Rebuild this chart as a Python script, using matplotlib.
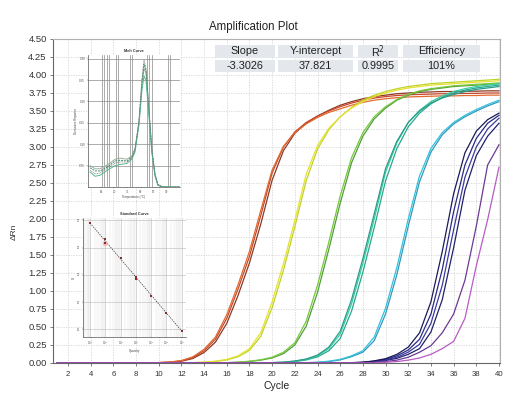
import matplotlib
matplotlib.use("Agg")
import matplotlib.pyplot as plt
from matplotlib.patches import Rectangle
from matplotlib.ticker import FormatStrFormatter, NullFormatter, LogLocator
import numpy as np

plt.rcParams['font.family'] = ['Liberation Sans', 'DejaVu Sans']

W, H = 516, 399

# ---------------- data ----------------
cycles = list(range(1, 41))

red_1 = [0]*9 + [0.005, 0.012, 0.03, 0.075, 0.17, 0.33, 0.62, 1.03, 1.48, 2.05, 2.64,
                 3.00, 3.21, 3.34, 3.43, 3.50, 3.56, 3.61, 3.65, 3.68, 3.70,
                 3.715, 3.725, 3.73, 3.735, 3.74, 3.74, 3.745, 3.745, 3.75, 3.75]
red_2 = [0]*9 + [0.004, 0.01, 0.025, 0.062, 0.145, 0.29, 0.55, 0.94, 1.39, 1.93, 2.54,
                 2.95, 3.19, 3.33, 3.43, 3.51, 3.58, 3.63, 3.67, 3.70, 3.72,
                 3.74, 3.75, 3.76, 3.765, 3.77, 3.77, 3.775, 3.775, 3.78, 3.78]
red_3 = [0]*9 + [0.006, 0.014, 0.034, 0.085, 0.19, 0.36, 0.67, 1.09, 1.55, 2.12, 2.68,
                 3.01, 3.20, 3.32, 3.41, 3.48, 3.53, 3.58, 3.62, 3.65, 3.67,
                 3.685, 3.695, 3.70, 3.705, 3.71, 3.71, 3.715, 3.715, 3.72, 3.72]
yellow_1 = [0]*12 + [0.005, 0.012, 0.025, 0.05, 0.10, 0.20, 0.42, 0.85, 1.38, 1.98,
                     2.62, 3.02, 3.26, 3.42, 3.54, 3.63, 3.70, 3.75, 3.79, 3.82,
                     3.84, 3.86, 3.87, 3.88, 3.89, 3.90, 3.91, 3.92]
yellow_2 = [0]*12 + [0.004, 0.01, 0.021, 0.043, 0.087, 0.175, 0.37, 0.77, 1.29, 1.89,
                     2.53, 2.97, 3.24, 3.42, 3.55, 3.65, 3.72, 3.77, 3.81, 3.84,
                     3.86, 3.88, 3.89, 3.90, 3.91, 3.92, 3.93, 3.94]
green_1 = [0]*15 + [0.005, 0.012, 0.025, 0.045, 0.08, 0.15, 0.28, 0.58, 1.08, 1.68,
                    2.32, 2.85, 3.20, 3.42, 3.56, 3.66, 3.73, 3.78, 3.81, 3.83,
                    3.85, 3.86, 3.87, 3.88, 3.89]
green_2 = [0]*15 + [0.004, 0.01, 0.021, 0.04, 0.07, 0.13, 0.25, 0.51, 0.98, 1.58,
                    2.22, 2.78, 3.15, 3.39, 3.54, 3.65, 3.72, 3.77, 3.80, 3.82,
                    3.84, 3.85, 3.86, 3.87, 3.88]
teal_1 = [0]*19 + [0.005, 0.01, 0.025, 0.05, 0.10, 0.20, 0.40, 0.82, 1.38, 2.00,
                   2.65, 3.06, 3.34, 3.51, 3.63, 3.71, 3.77, 3.81, 3.84, 3.86, 3.88]
teal_2 = [0]*19 + [0.004, 0.008, 0.02, 0.042, 0.085, 0.17, 0.34, 0.72, 1.26, 1.88,
                   2.53, 2.98, 3.28, 3.47, 3.60, 3.69, 3.75, 3.79, 3.82, 3.84, 3.86]
teal_3 = [0]*19 + [0.006, 0.012, 0.028, 0.055, 0.11, 0.22, 0.44, 0.88, 1.45, 2.07,
                   2.70, 3.08, 3.34, 3.50, 3.61, 3.68, 3.73, 3.77, 3.80, 3.82, 3.84]
cyan_1 = [0]*22 + [0.005, 0.01, 0.025, 0.05, 0.10, 0.17, 0.36, 0.76, 1.33, 2.00,
                   2.60, 2.98, 3.20, 3.34, 3.44, 3.52, 3.59, 3.65]
cyan_2 = [0]*22 + [0.004, 0.008, 0.02, 0.043, 0.088, 0.15, 0.31, 0.68, 1.23, 1.90,
                   2.52, 2.93, 3.17, 3.32, 3.42, 3.50, 3.57, 3.63]
navy_1 = [0]*26 + [0.005, 0.01, 0.03, 0.06, 0.12, 0.22, 0.42, 0.85, 1.55, 2.35,
                   2.92, 3.22, 3.38, 3.47]
navy_2 = [0]*26 + [0.004, 0.009, 0.025, 0.05, 0.10, 0.18, 0.33, 0.68, 1.30, 2.10,
                   2.75, 3.12, 3.33, 3.44]
navy_3 = [0]*26 + [0.003, 0.008, 0.02, 0.04, 0.08, 0.15, 0.26, 0.55, 1.08, 1.85,
                   2.58, 3.00, 3.25, 3.40]
navy_4 = [0]*26 + [0.003, 0.007, 0.017, 0.035, 0.065, 0.12, 0.20, 0.43, 0.88, 1.60,
                   2.40, 2.88, 3.15, 3.33]
purple_1 = [0]*28 + [0.01, 0.02, 0.04, 0.08, 0.15, 0.24, 0.42, 0.68, 1.15, 1.90, 2.75, 3.03]
purple_2 = [0]*29 + [0.01, 0.02, 0.04, 0.07, 0.12, 0.20, 0.30, 0.62, 1.35, 1.99, 2.72]

curves = [
    (red_2, '#8c3a22'), (red_1, '#c8452a'), (red_3, '#e06a30'),
    (yellow_2, '#bcd42a'), (yellow_1, '#e8e030'),
    (green_2, '#4f9e3c'), (green_1, '#78c83a'),
    (teal_2, '#27a88c'), (teal_1, '#38cfa2'), (teal_3, '#2a9a8c'),
    (cyan_2, '#2d98c0'), (cyan_1, '#36c0d8'),
    (navy_4, '#20206e'), (navy_3, '#3b3b9c'), (navy_2, '#2a2a84'), (navy_1, '#1a1a58'),
    (purple_1, '#6a3a92'), (purple_2, '#b85cc4'),
]

table_headers = ['Slope', 'Y-intercept', 'R$^2$', 'Efficiency']
table_values = ['-3.3026', '37.821', '0.9995', '101%']

# melt curve inset
melt_temp = [60.8, 62.7, 64.6, 67.6, 70.3, 72.2, 74.8, 76.7, 77.9, 79.4, 80.5, 81.3,
             82.1, 83.2, 84.3, 85.5, 86.6, 88.2, 91.0, 95.0]
melt_1 = [0.79, 0.61, 0.65, 0.89, 1.12, 1.17, 1.17, 1.36, 1.73, 3.13, 5.00, 5.93,
          5.56, 3.60, 1.73, 0.56, 0.09, 0.00, 0.00, 0.00]
melt_2 = [1.00, 0.85, 0.85, 1.05, 1.30, 1.35, 1.30, 1.45, 1.80, 3.00, 4.70, 5.55,
          5.30, 3.50, 1.70, 0.60, 0.12, 0.02, 0.00, 0.00]
melt_3 = [0.70, 0.50, 0.55, 0.80, 1.00, 1.05, 1.10, 1.30, 1.65, 2.90, 4.50, 5.20,
          4.95, 3.30, 1.60, 0.50, 0.08, 0.00, 0.00, 0.00]
melt_4 = [0.90, 0.75, 0.75, 0.95, 1.22, 1.25, 1.22, 1.40, 1.76, 3.05, 4.85, 5.75,
          5.40, 3.55, 1.72, 0.58, 0.10, 0.01, 0.00, 0.00]
melt_yticklabels = ['0.05', '0.10', '0.15', '0.20', '0.25', '0.30']

# standard curve inset
std_quantity = [1e1, 1e2, 1e2, 1e3, 1e4, 1e4, 1e5, 1e6, 1e7]
std_ct = [34.52, 31.53, 30.90, 28.04, 24.55, 24.30, 21.12, 17.95, 14.70]
std_fit_quantity = [1e1, 1e7]
std_fit_ct = [34.52, 14.70]


def px_rect(l, t, r, b):
    return [l / W, 1 - b / H, (r - l) / W, (b - t) / H]


fig = plt.figure(figsize=(W / 100, H / 100), dpi=100)

# ---------------- main axes ----------------
ax = fig.add_axes(px_rect(53, 39, 500, 363))
for ys, c in curves:
    ax.plot(cycles, ys, color=c, lw=0.9, solid_joinstyle='round', zorder=3)
ax.set_xlim(0.68, 40.09)
ax.set_ylim(0, 4.5)
ax.set_xticks(range(2, 41, 2))
ax.set_yticks(np.arange(0, 4.51, 0.25))
ax.yaxis.set_major_formatter(FormatStrFormatter('%.2f'))
ax.tick_params(axis='y', labelsize=6.8, length=2.5, width=0.6, color='#666',
               labelcolor='#333', pad=2)
ax.tick_params(axis='x', labelsize=5.6, length=2.5, width=0.6, color='#666',
               labelcolor='#333', pad=3)
ax.grid(True, color='#d4d4d4', linestyle=(0, (1.5, 1.5)), linewidth=0.6, zorder=0)
for s in ['left', 'bottom']:
    ax.spines[s].set_color('#666')
    ax.spines[s].set_linewidth(0.8)
for s in ['top', 'right']:
    ax.spines[s].set_color('#b0b0b0')
    ax.spines[s].set_linewidth(0.8)

fig.text(253 / W, 1 - 27 / H, 'Amplification Plot', ha='center', va='center',
         fontsize=8.3, color='#222')
fig.text(277 / W, 1 - 386 / H, 'Cycle', ha='center', va='center', fontsize=7.5, color='#222')
fig.text(14 / W, 1 - 232 / H, 'ΔRn', ha='center', va='center', rotation=90,
         fontsize=6, color='#333')

# ---------------- table ----------------
cells = [(215, 275), (278, 353), (358, 398), (403, 480)]
rows = [(45, 58), (60, 72)]
for (x0, x1), h, v in zip(cells, table_headers, table_values):
    for (y0, y1), txt in zip(rows, [h, v]):
        fig.patches.append(Rectangle((x0 / W, 1 - y1 / H), (x1 - x0) / W, (y1 - y0) / H,
                                     transform=fig.transFigure, facecolor='#e4e7ec',
                                     edgecolor='none', zorder=5))
        fig.text((x0 + x1) / 2 / W, 1 - (y0 + y1) / 2 / H, txt, ha='center', va='center',
                 fontsize=7.8, color='#222', zorder=6)

# ---------------- melt curve inset ----------------
am = fig.add_axes(px_rect(88, 55, 180, 187))
am.set_facecolor('white')
for t in [65.2, 66.2, 67.1, 68.0, 70.7, 71.6, 76.0, 76.9, 82.3, 83.3, 84.2, 90.3, 91.2]:
    am.axvline(t, color='#8a8a8a', lw=0.5, zorder=1)
for yv in range(1, 7):
    am.axhline(yv, color='#8a8a8a', lw=0.5, zorder=1)
am.plot(melt_temp, melt_2, color='#9ab0a0', lw=0.7, zorder=3)
am.plot(melt_temp, melt_4, color='#4a8a6a', lw=0.7, ls=(0, (2, 1)), zorder=3)
am.plot(melt_temp, melt_3, color='#58b890', lw=0.7, zorder=3)
am.plot(melt_temp, melt_1, color='#6a7a70', lw=0.6, ls=(0, (1, 1)), zorder=3)
am.set_xlim(60, 95)
am.set_ylim(0, 6.17)
am.set_yticks(range(1, 7))
am.set_yticklabels(melt_yticklabels)
am.set_xticks([65, 70, 75, 80, 85, 90])
am.tick_params(labelsize=2.2, length=1, width=0.3, pad=1, colors='#555')
for s in ['top', 'right']:
    am.spines[s].set_visible(False)
for s in ['left', 'bottom']:
    am.spines[s].set_color('#555')
    am.spines[s].set_linewidth(0.5)
am.set_title('Melt Curve', fontsize=2.8, fontweight='bold', pad=2, color='#333')
am.set_xlabel('Temperature (°C)', fontsize=2.2, labelpad=1, color='#444')
am.set_ylabel('Derivative Reporter', fontsize=2.2, labelpad=1, color='#444')

# ---------------- standard curve inset ----------------
ast = fig.add_axes(px_rect(83, 218, 186, 337))
ast.set_facecolor('white')
ast.set_xscale('log')
ast.set_xlim(10 ** 0.54, 10 ** 7.28)
ast.set_ylim(13.6, 35.44)
ast.xaxis.set_major_locator(LogLocator(base=10, numticks=10))
ast.xaxis.set_minor_locator(LogLocator(base=10, subs=np.arange(2, 10), numticks=10))
ast.xaxis.set_minor_formatter(NullFormatter())
ast.grid(True, which='major', color='#b8b8b8', lw=0.4)
ast.grid(True, which='minor', axis='x', color='#dedede', lw=0.3)
ast.set_yticks([15, 20, 25, 30, 35])
ast.plot(std_fit_quantity, std_fit_ct, color='#333', lw=0.5, ls=(0, (2, 1.5)), zorder=3)
ast.scatter([std_quantity[2]], [std_ct[2]], s=14, color='#f4a0a0', alpha=0.7, zorder=3,
            linewidths=0)
ast.scatter(std_quantity, std_ct, s=4, marker='s', color='#8a2a2a', zorder=4, linewidths=0)
ast.tick_params(labelsize=2.0, length=1, width=0.3, pad=1, colors='#555')
ast.tick_params(which='minor', length=0)
for s in ['top', 'right']:
    ast.spines[s].set_visible(False)
ast.spines['left'].set_linestyle((0, (1, 1)))
for s in ['left', 'bottom']:
    ast.spines[s].set_color('#555')
    ast.spines[s].set_linewidth(0.5)
ast.set_title('Standard Curve', fontsize=2.8, fontweight='bold', pad=2, color='#333')
ast.set_xlabel('Quantity', fontsize=2.2, labelpad=1, color='#444')
ast.set_ylabel('Ct', fontsize=2.2, labelpad=1, color='#444')

fig.savefig('out.png', dpi=100)
